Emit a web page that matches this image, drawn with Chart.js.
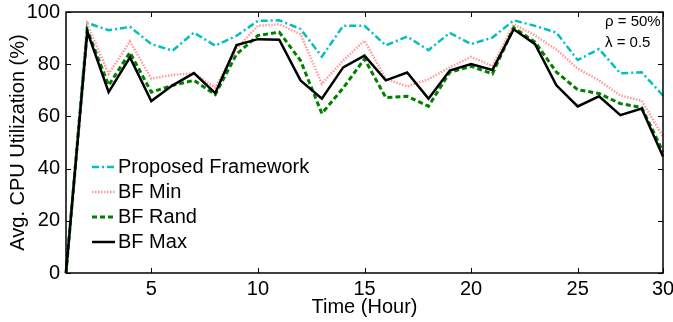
<!DOCTYPE html>
<html>
<head>
<meta charset="utf-8">
<script src="https://cdn.jsdelivr.net/npm/chart.js@4"></script>
<style>
  body { margin: 0; background: #fff; }
  canvas { display: block; }
</style>
</head>
<body>
<canvas id="cpu" width="673" height="322"></canvas>
<script>
// hours on the x axis (29 samples, last tick is labelled 30)
const hours = [1, 2, 3, 4, 5, 6, 7, 8, 9, 10, 11, 12, 13, 14, 15, 16, 17, 18, 19, 20, 21, 22, 23, 24, 25, 26, 27, 28, 29];
const xTickValues = [5, 10, 15, 20, 25, 29];
const xTickLabels = ["5", "10", "15", "20", "25", "30"];

// utilization values (%)
const proposed = [0, 95.8, 93.0, 94.3, 87.7, 85.2, 92.1, 87.1, 90.9, 96.6, 96.8, 93.5, 82.9, 94.7, 94.7, 87.2, 90.6, 85.4, 92.0, 87.7, 90.2, 96.8, 94.7, 92.1, 81.6, 85.8, 76.5, 76.9, 68.0];
const bfMin = [0, 95.3, 76.3, 88.7, 74.5, 75.9, 76.5, 71.0, 86.0, 94.7, 95.3, 91.5, 72.5, 81.4, 89.0, 74.4, 71.5, 74.2, 78.8, 82.8, 79.3, 95.3, 91.0, 85.6, 78.3, 73.8, 68.0, 66.0, 52.3];
const bfRand = [0, 93.0, 71.9, 84.5, 69.3, 71.9, 73.8, 68.4, 83.9, 91.0, 92.3, 81.4, 61.1, 70.9, 82.0, 67.2, 67.7, 63.9, 76.9, 79.2, 76.3, 94.0, 88.5, 77.0, 70.2, 68.8, 64.9, 63.4, 46.5];
const bfMax = [0, 92.5, 69.3, 82.6, 65.9, 71.9, 76.6, 68.9, 87.3, 89.6, 89.4, 73.8, 66.8, 78.8, 83.3, 73.8, 76.8, 66.8, 77.6, 80.1, 77.8, 93.4, 87.7, 71.9, 63.8, 67.7, 60.5, 63.0, 44.6];

const seriesNames = ["Proposed Framework", "BF Min", "BF Rand", "BF Max"];
const notes = ["\u03c1 = 50%", "\u03bb = 0.5"];

const FONT = "'Liberation Sans', Arial, sans-serif";

// frame with inward ticks on all four sides, MATLAB style
const boxPlugin = {
  id: "box",
  afterDatasetsDraw(chart) {
    const { ctx, chartArea: a, scales } = chart;
    ctx.save();
    ctx.strokeStyle = "#000";
    ctx.lineWidth = 1;
    const tl = 5;
    ctx.beginPath();
    xTickValues.forEach(v => {
      const x = Math.round(scales.x.getPixelForValue(v)) + 0.5;
      ctx.moveTo(x, a.bottom); ctx.lineTo(x, a.bottom - tl);
      ctx.moveTo(x, a.top); ctx.lineTo(x, a.top + tl);
    });
    scales.y.ticks.forEach(t => {
      const y = Math.round(scales.y.getPixelForValue(t.value)) + 0.5;
      ctx.moveTo(a.left, y); ctx.lineTo(a.left + tl, y);
      ctx.moveTo(a.right, y); ctx.lineTo(a.right - tl, y);
    });
    ctx.stroke();
    ctx.lineWidth = 1.5;
    ctx.strokeRect(a.left, a.top, a.right - a.left, a.bottom - a.top);
    ctx.restore();
  }
};

// legend inside the plot, lower left
const legendPlugin = {
  id: "innerLegend",
  afterDraw(chart) {
    const { ctx } = chart;
    ctx.save();
    ctx.font = "20px " + FONT;
    ctx.textBaseline = "middle";
    ctx.fillStyle = "#000";
    chart.data.datasets.forEach((ds, i) => {
      const y = 167 + i * 25;
      ctx.beginPath();
      ctx.strokeStyle = ds.borderColor;
      ctx.lineWidth = ds.borderWidth;
      ctx.setLineDash(ds.borderDash || []);
      ctx.moveTo(92, y);
      ctx.lineTo(115, y);
      ctx.stroke();
      ctx.setLineDash([]);
      ctx.fillText(ds.label, 118, y);
    });
    // parameter note, top right
    ctx.font = "15px " + FONT;
    ctx.fillText(notes[0], 605, 22);
    ctx.fillText(notes[1], 605, 43);
    ctx.restore();
  }
};

new Chart(document.getElementById("cpu"), {
  type: "line",
  data: {
    labels: hours,
    datasets: [
      { label: seriesNames[0], data: proposed, borderColor: "#00bfbf", borderWidth: 2.5, borderDash: [7, 3, 2, 3], order: 4 },
      { label: seriesNames[1], data: bfMin, borderColor: "#ff9a9a", borderWidth: 2.5, borderDash: [1.5, 1.5], order: 3 },
      { label: seriesNames[2], data: bfRand, borderColor: "#008000", borderWidth: 3, borderDash: [5, 3], order: 2 },
      { label: seriesNames[3], data: bfMax, borderColor: "#000000", borderWidth: 2.5, order: 1 },
    ],
  },
  options: {
    responsive: false,
    animation: false,
    clip: false,
    elements: { point: { radius: 0 }, line: { tension: 0, borderCapStyle: "butt" } },
    layout: { padding: { top: 12, right: 10, left: 0, bottom: 0 } },
    plugins: { legend: { display: false }, tooltip: { enabled: false } },
    scales: {
      x: {
        type: "linear",
        min: 1,
        max: 29,
        afterBuildTicks: (scale) => { scale.ticks = xTickValues.map(v => ({ value: v })); },
        afterFit: (scale) => { scale.height = 49; scale.paddingLeft = 0; scale.paddingRight = 0; },
        grid: { display: false, drawTicks: false },
        border: { display: false },
        ticks: {
          color: "#000",
          font: { family: FONT, size: 20 },
          padding: 4,
          maxRotation: 0,
          autoSkip: false,
          callback: (v, i) => xTickLabels[i],
        },
        title: { display: true, text: "Time (Hour)", color: "#000", font: { family: FONT, size: 20, lineHeight: 1.2 }, padding: { top: 0, bottom: 3 } },
      },
      y: {
        min: 0,
        max: 100,
        afterFit: (scale) => { scale.width = 66; scale.paddingTop = 0; scale.paddingBottom = 0; },
        grid: { display: false, drawTicks: false },
        border: { display: false },
        ticks: { stepSize: 20, color: "#000", font: { family: FONT, size: 20 }, padding: 6 },
        title: { display: true, text: "Avg. CPU Utilization (%)", color: "#000", font: { family: FONT, size: 20, lineHeight: 1.2 }, padding: { top: 6, bottom: 0 } },
      },
    },
  },
  plugins: [boxPlugin, legendPlugin],
});
</script>
</body>
</html>
